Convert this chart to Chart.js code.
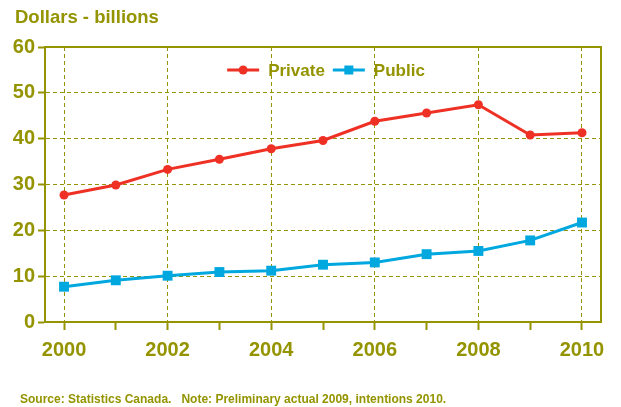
<!DOCTYPE html>
<html>
<head>
<meta charset="utf-8">
<script src="https://cdn.jsdelivr.net/npm/chart.js@4/dist/chart.umd.min.js"></script>
<style>
  html, body { margin: 0; padding: 0; background: #ffffff; }
  #wrap { position: relative; width: 621px; height: 407px; overflow: hidden; }
  #c { position: absolute; left: 0; top: 0; }
  .txt { position: absolute; font-family: "Liberation Sans", Arial, sans-serif; font-weight: bold; color: #949400; white-space: nowrap; }
  #title { left: 15px; top: 8px; font-size: 18.5px; line-height: 18px; }
  #source { left: 20px; top: 393px; font-size: 12px; line-height: 12px; }
</style>
</head>
<body>
<div id="wrap">
  <canvas id="c" width="621" height="407"></canvas>
  <div id="title" class="txt">Dollars - billions</div>
  <div id="source" class="txt">Source: Statistics Canada.&nbsp;&nbsp; Note: Preliminary actual 2009, intentions 2010.</div>
</div>
<script>
const years = [2000, 2001, 2002, 2003, 2004, 2005, 2006, 2007, 2008, 2009, 2010];
const privateValues = [27.7, 29.9, 33.3, 35.5, 37.8, 39.6, 43.8, 45.6, 47.4, 40.8, 41.3];
const publicValues = [7.7, 9.1, 10.1, 10.9, 11.2, 12.5, 13.0, 14.8, 15.5, 17.8, 21.7];
const yTicks = [0, 10, 20, 30, 40, 50, 60];
const seriesNames = ['Private', 'Public'];

const OLIVE = '#949400';
const RED = '#ee3124';
const BLUE = '#00a8df';
const FONT = '"Liberation Sans", Arial, sans-serif';

const toPoints = vals => years.map((yr, i) => ({ x: yr, y: vals[i] }));

const frame = {
  id: 'frame',
  afterDatasetsDraw(chart) {
    const a = chart.chartArea, ctx = chart.ctx;
    ctx.save();
    ctx.strokeStyle = OLIVE; ctx.lineWidth = 2;
    ctx.strokeRect(a.left, a.top, a.right - a.left, a.bottom - a.top);
    ctx.restore();
  }
};

const inlineLegend = {
  id: 'inlineLegend',
  afterDraw(chart) {
    const a = chart.chartArea, ctx = chart.ctx;
    const lineW = 32, gapText = 9, gapItem = 8, rowY = a.top + 23;
    ctx.save();
    ctx.font = 'bold 17px ' + FONT;
    const items = chart.data.datasets.map(ds => ({ ds, w: lineW + gapText + ctx.measureText(ds.label).width }));
    const total = items.reduce((s, it) => s + it.w, 0) + gapItem * (items.length - 1);
    let x = (a.left + a.right) / 2 + 3 - total / 2;
    items.forEach(it => {
      const ds = it.ds;
      ctx.strokeStyle = ds.borderColor; ctx.lineWidth = 3;
      ctx.beginPath(); ctx.moveTo(x, rowY); ctx.lineTo(x + lineW, rowY); ctx.stroke();
      ctx.fillStyle = ds.borderColor;
      const cx = x + lineW / 2;
      if (ds.pointStyle === 'circle') { ctx.beginPath(); ctx.arc(cx, rowY, 4.5, 0, Math.PI * 2); ctx.fill(); }
      else { ctx.fillRect(cx - 4.5, rowY - 4.5, 9, 9); }
      ctx.fillStyle = OLIVE;
      ctx.textBaseline = 'middle';
      ctx.textAlign = 'left';
      ctx.fillText(ds.label, x + lineW + gapText, rowY + 1);
      x += it.w + gapItem;
    });
    ctx.restore();
  }
};

new Chart(document.getElementById('c'), {
  type: 'line',
  data: {
    datasets: [
      { label: seriesNames[0], data: toPoints(privateValues), borderColor: RED, backgroundColor: RED,
        borderWidth: 3, pointStyle: 'circle', pointRadius: 4.5, pointBackgroundColor: RED, pointBorderWidth: 0, tension: 0 },
      { label: seriesNames[1], data: toPoints(publicValues), borderColor: BLUE, backgroundColor: BLUE,
        borderWidth: 3, pointStyle: 'rect', pointRadius: 7, pointBackgroundColor: BLUE, pointBorderWidth: 0, tension: 0 }
    ]
  },
  options: {
    responsive: false,
    animation: false,
    devicePixelRatio: 1,
    layout: { padding: { left: 0, right: 20, top: 47, bottom: 0 } },
    plugins: {
      tooltip: { enabled: false },
      legend: { display: false }
    },
    scales: {
      x: {
        type: 'linear',
        min: 1999.633,
        max: 2010.367,
        afterBuildTicks: s => { s.ticks = years.map(v => ({ value: v })); },
        afterFit: s => { s.height = 85; },
        grid: {
          color: c => (c.tick && c.tick.value % 2 === 0) ? OLIVE : 'rgba(0,0,0,0)',
          lineWidth: 1,
          tickColor: OLIVE,
          tickWidth: 2,
          tickLength: 8
        },
        border: { display: true, color: OLIVE, width: 2, dash: [4, 3] },
        ticks: {
          autoSkip: false,
          maxRotation: 0,
          padding: 8,
          color: OLIVE,
          font: { family: FONT, size: 20, weight: 'bold' },
          callback: v => (v % 2 === 0 ? String(v) : '')
        }
      },
      y: {
        min: 0,
        max: 60,
        afterBuildTicks: s => { s.ticks = yTicks.map(v => ({ value: v })); },
        afterFit: s => { s.width = 45; },
        grid: { color: OLIVE, lineWidth: 1, tickColor: OLIVE, tickWidth: 2, tickLength: 7 },
        border: { display: true, color: OLIVE, width: 2, dash: [4, 3] },
        ticks: {
          padding: 3,
          color: OLIVE,
          font: { family: FONT, size: 20, weight: 'bold' }
        }
      }
    }
  },
  plugins: [frame, inlineLegend]
});
</script>
</body>
</html>
